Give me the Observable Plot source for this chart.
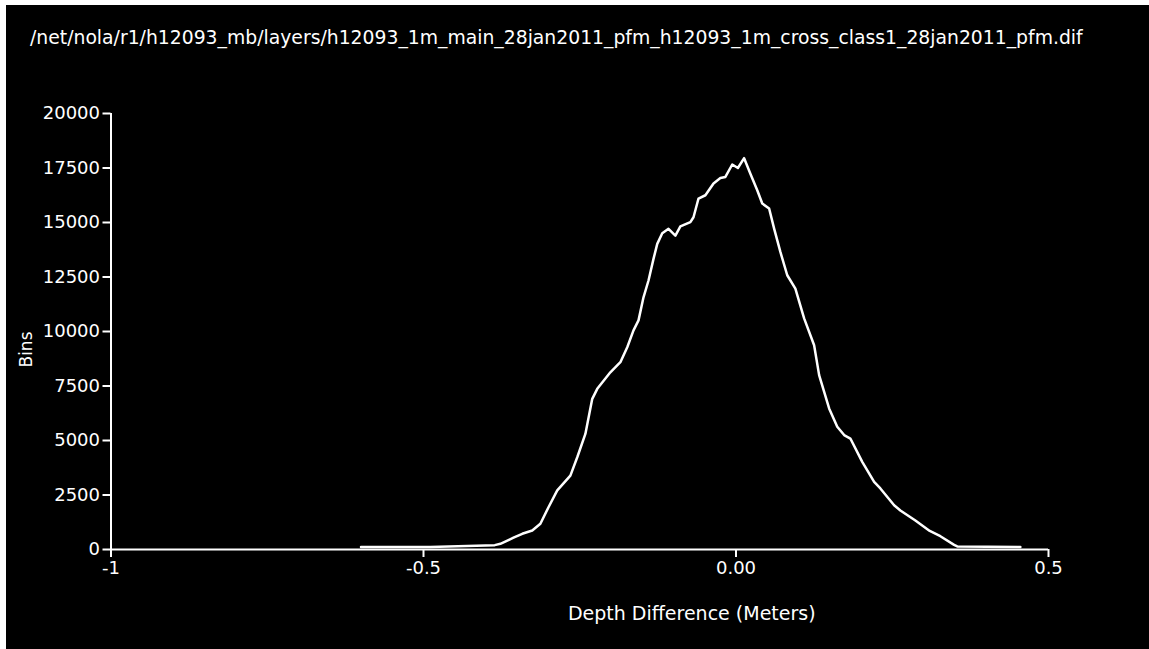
<!DOCTYPE html>
<html>
<head>
<meta charset="utf-8">
<script src="https://cdn.jsdelivr.net/npm/d3@7"></script>
<script src="https://cdn.jsdelivr.net/npm/@observablehq/plot@0.6"></script>
<style>
  html, body { margin: 0; padding: 0; background: #ffffff; width: 1149px; height: 649px; overflow: hidden; }
  #panel { position: absolute; left: 6px; top: 5px; width: 1143px; height: 644px; background: #000; }
  #title { position: absolute; left: 24px; top: 22px; color: #fff; font-family: "DejaVu Sans", sans-serif; font-size: 18.8px; white-space: nowrap; line-height: 22px; }
  #chart { position: absolute; left: 0; top: 70px; }
</style>
</head>
<body>
<div id="panel">
  <div id="title"></div>
  <div id="chart"></div>
</div>
<script>
const titleText = "/net/nola/r1/h12093_mb/layers/h12093_1m_main_28jan2011_pfm_h12093_1m_cross_class1_28jan2011_pfm.dif";
const xLabel = "Depth Difference (Meters)";
const yLabel = "Bins";

// Depth difference (m) and bin counts
const depthDiff = [-0.600, -0.489, -0.386, -0.377, -0.356, -0.342, -0.326, -0.313, -0.300, -0.286,
  -0.265, -0.254, -0.241, -0.230, -0.222, -0.201, -0.185, -0.174, -0.164, -0.156,
  -0.148, -0.140, -0.132, -0.126, -0.118, -0.108, -0.097, -0.089, -0.073, -0.068,
  -0.060, -0.049, -0.036, -0.025, -0.017, -0.006, 0.003, 0.013, 0.023, 0.034,
  0.042, 0.053, 0.061, 0.071, 0.082, 0.095, 0.109, 0.125, 0.133, 0.149,
  0.162, 0.173, 0.183, 0.202, 0.221, 0.231, 0.253, 0.263, 0.287, 0.310,
  0.327, 0.349, 0.354, 0.455];
const bins = [110, 110, 200, 260, 540, 720, 870, 1180, 1940, 2710,
  3390, 4230, 5300, 6910, 7370, 8130, 8590, 9280, 10050, 10510,
  11570, 12340, 13330, 14020, 14510, 14710, 14400, 14820, 15020, 15240,
  16100, 16250, 16790, 17040, 17090, 17660, 17500, 17950, 17240, 16480,
  15870, 15640, 14720, 13650, 12580, 11970, 10600, 9370, 8000, 6470,
  5630, 5250, 5090, 4020, 3100, 2800, 2030, 1790, 1330, 850,
  610, 210, 140, 110];

const xTicks = [-1, -0.5, 0, 0.5];
const xTickLabels = ["-1", "-0.5", "0.00", "0.5"];
const yTicks = [0, 2500, 5000, 7500, 10000, 12500, 15000, 17500, 20000];

const data = depthDiff.map((d, i) => ({x: d, y: bins[i]}));

document.getElementById("title").textContent = titleText;

const chart = Plot.plot({
  width: 1143,
  height: 574,
  marginLeft: 104.5,
  marginRight: 101,
  marginTop: 38,
  marginBottom: 100,
  style: {background: "#000", color: "#fff", fontFamily: "DejaVu Sans, sans-serif", fontSize: "18px"},
  x: {domain: [-1, 0.5]},
  y: {domain: [0, 20000]},
  marks: [
    Plot.axisX({ticks: xTicks, tickFormat: (d, i) => xTickLabels[i], tickSize: 8, tickPadding: 4, strokeWidth: 2, label: null, fontSize: 18}),
    Plot.axisY({ticks: yTicks, tickFormat: d => String(d), tickSize: 8, tickPadding: 3, strokeWidth: 2, label: null, fontSize: 18}),
    Plot.ruleY([0], {x1: -1, x2: 0.5, stroke: "#fff", strokeWidth: 2}),
    Plot.ruleX([-1], {y1: 0, y2: 20000, stroke: "#fff", strokeWidth: 2}),
    Plot.line(data, {x: "x", y: "y", stroke: "#fff", strokeWidth: 2.5}),
    Plot.text([xLabel], {frameAnchor: "bottom", text: d => d, dx: 112, dy: 70, fontSize: 19, fill: "#fff"}),
    Plot.text([yLabel], {frameAnchor: "left", text: d => d, dx: -84, textAnchor: "end", rotate: -90, fontSize: 17, fill: "#fff"})
  ]
});
document.getElementById("chart").appendChild(chart);
</script>
</body>
</html>
